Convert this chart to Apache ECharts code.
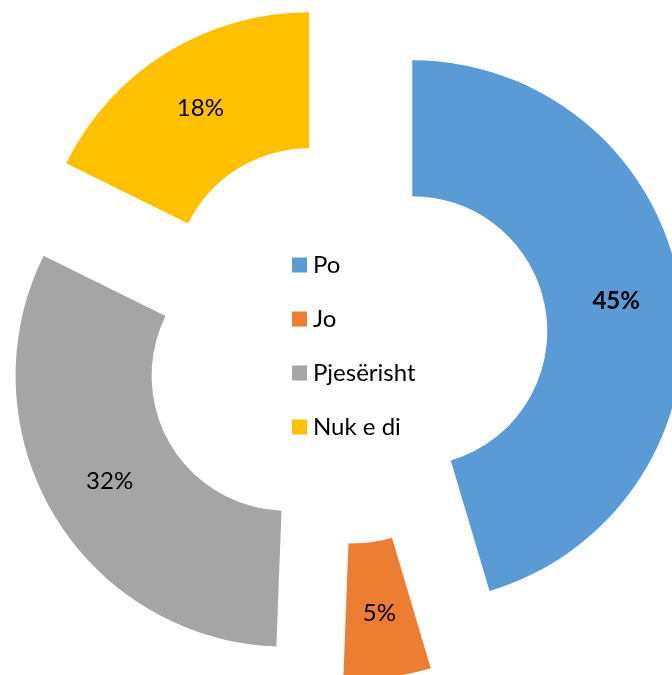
<!DOCTYPE html>
<html lang="sq">
<head>
    <meta charset="UTF-8">
    <script src="https://cdn.jsdelivr.net/npm/echarts@6/dist/echarts.min.js"></script>
    <title>Po / Jo</title>
    <style>
        html, body { margin: 0; padding: 0; background: #fff; }
        #main { width: 672px; height: 675px; }
    </style>
</head>
<body>
<div id="main"></div>

<script>
    // te dhenat (lexuar nga grafiku)
    var categories = ['Po', 'Jo', 'Pjesërisht', 'Nuk e di'];
    var values = [45.4, 5.2, 31.7, 17.7];
    var colors = ['#5B9BD5', '#ED7D31', '#A5A5A5', '#FFC000'];

    var font = 'Lato, "Open Sans", sans-serif';

    var pieData = [];
    for (var i = 0; i < categories.length; i++) {
        pieData.push({
            name: categories[i],
            value: values[i],
            selected: true,
            itemStyle: { color: colors[i] },
            label: { fontWeight: i == 0 ? 'bold' : 'normal' }
        });
    }

    var myChart = echarts.init(document.getElementById('main'));

    var option = {
        animation: false,
        legend: {
            orient: 'vertical',
            left: 292,
            top: 252,
            padding: 0,
            itemWidth: 15,
            itemHeight: 15,
            itemGap: 28,
            icon: 'rect',
            selectedMode: false,
            textStyle: {
                fontFamily: font,
                fontSize: 24,
                lineHeight: 26,
                color: '#000',
                padding: [0, 0, 0, 1]
            },
            data: categories
        },
        series: [
            {
                type: 'pie',
                center: [345, 341],
                radius: [135, 271],
                startAngle: 90,
                clockwise: true,
                selectedMode: 'multiple',
                selectedOffset: 68,
                percentPrecision: 0,
                avoidLabelOverlap: false,
                label: {
                    show: true,
                    position: 'inside',
                    formatter: '{d}%',
                    fontFamily: font,
                    fontSize: 24,
                    color: '#000'
                },
                labelLine: { show: false },
                emphasis: { scale: false, disabled: true },
                data: pieData
            }
        ]
    };

    myChart.setOption(option);
</script>
</body>
</html>
